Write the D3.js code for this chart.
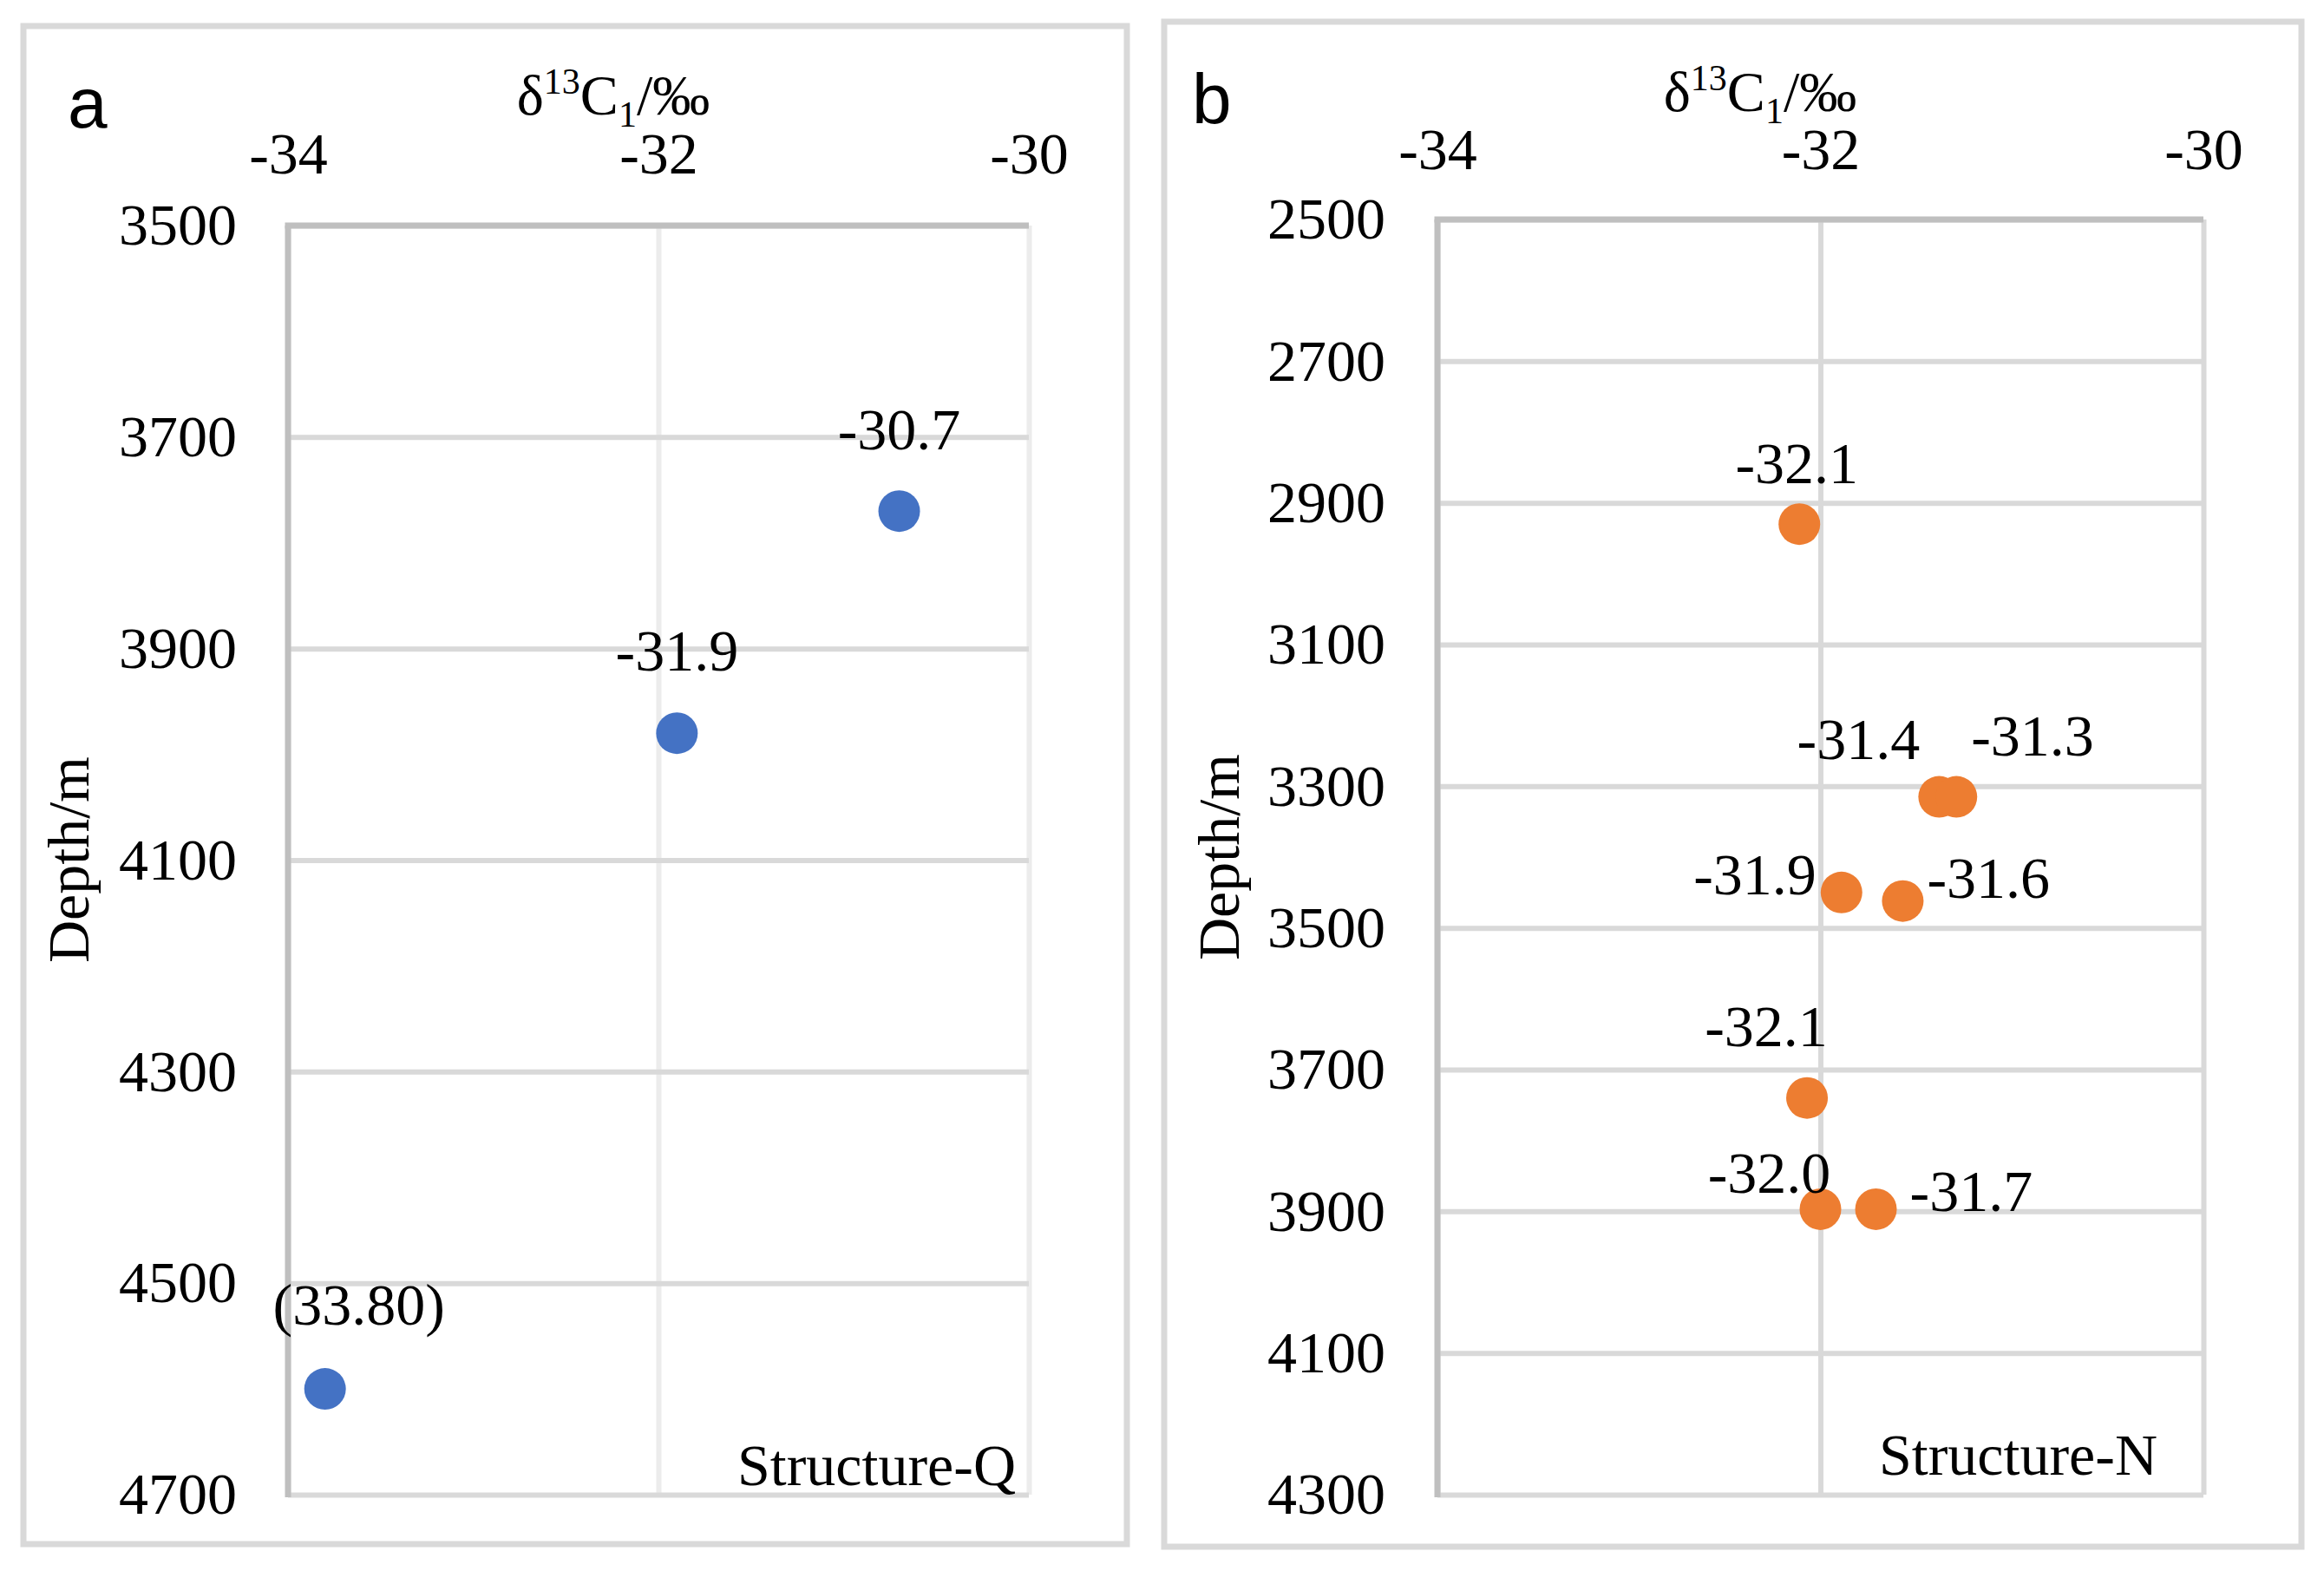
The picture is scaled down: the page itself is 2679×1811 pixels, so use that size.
<!DOCTYPE html>
<html>
<head>
<meta charset="utf-8">
<script src="https://cdn.jsdelivr.net/npm/d3@7"></script>
<style>
  html, body { margin: 0; padding: 0; background: #ffffff; }
  svg { display: block; }
</style>
</head>
<body>
<svg id="chart" width="2679" height="1811"></svg>
<script>
// ---------------- DATA ----------------
const xTicks = [-34, -32, -30];
const xDomain = [-34, -30];

// Panel a : Structure-Q
const depthTicksA = [3500, 3700, 3900, 4100, 4300, 4500, 4700];
const deltaA = [-30.7, -31.9, -33.8];
const depthA = [3770, 3980, 4600];
const labelsA = ["-30.7", "-31.9", "(33.80)"];

// Panel b : Structure-N
const depthTicksB = [2500, 2700, 2900, 3100, 3300, 3500, 3700, 3900, 4100, 4300];
const deltaB = [-32.11, -31.38, -31.29, -31.89, -31.57, -32.07, -32.0, -31.71];
const depthB = [2930, 3315, 3315, 3450, 3462, 3740, 3897, 3897];

const panelLetters = ["a", "b"];
const structureNames = ["Structure-Q", "Structure-N"];

// ---------------- LAYOUT (positions / styles) ----------------
const serif = "'Liberation Serif', 'Times New Roman', serif";
const sans = "'Liberation Sans', Arial, sans-serif";
const FS = 68;

const panels = [
  {
    frame: {x0: 27, y0: 30, x1: 1299, y1: 1780},
    plot: {x0: 332, y0: 260, x1: 1186, y1: 1723},
    yTicks: depthTicksA, yDomain: [3500, 4700],
    xs: deltaA, ys: depthA, labels: labelsA,
    color: "#4472c4", vGrid: "#ececec",
    labelPos: [ {a: "middle", dx: 0, dy: -71}, {a: "middle", dx: 0, dy: -72}, {a: "middle", dx: 39, dy: -74} ],
    letter: {x: 78, y: 147}, title: {x: 707, y: 132},
    xPad: 60, yPad: 59, depthLabel: {x: 102, y: 991},
    structure: {x: 1171, y: 1712}
  },
  {
    frame: {x0: 1342, y0: 25, x1: 2653, y1: 1783},
    plot: {x0: 1657, y0: 253, x1: 2540, y1: 1723},
    yTicks: depthTicksB, yDomain: [2500, 4300],
    xs: deltaB, ys: depthB, labels: deltaB.map(v => v.toFixed(1)),
    color: "#ed7d31", vGrid: "#d9d9d9",
    labelPos: [
      {a: "middle", dx: -3, dy: -47},
      {a: "middle", dx: -93, dy: -44},
      {a: "start", dx: 17, dy: -48},
      {a: "end", dx: -29, dy: 2},
      {a: "start", dx: 28, dy: -4},
      {a: "middle", dx: -47, dy: -60},
      {a: "middle", dx: -59, dy: -19},
      {a: "start", dx: 39, dy: 2}
    ],
    letter: {x: 1374, y: 142}, title: {x: 2029, y: 128},
    xPad: 58, yPad: 60, depthLabel: {x: 1428, y: 988},
    structure: {x: 2487, y: 1700}
  }
];

const svg = d3.select("#chart");

panels.forEach((p, pi) => {
  const g = svg.append("g");
  const W = p.plot.x1 - p.plot.x0, H = p.plot.y1 - p.plot.y0;

  // outer frame
  g.append("rect")
    .attr("x", p.frame.x0).attr("y", p.frame.y0)
    .attr("width", p.frame.x1 - p.frame.x0).attr("height", p.frame.y1 - p.frame.y0)
    .attr("fill", "#ffffff").attr("stroke", "#d9d9d9").attr("stroke-width", 7);

  const x = d3.scaleLinear().domain(xDomain).range([p.plot.x0, p.plot.x1]);
  const y = d3.scaleLinear().domain(p.yDomain).range([p.plot.y0, p.plot.y1]);

  // vertical gridlines
  const vg = g.append("g").attr("transform", `translate(0,${p.plot.y0})`)
    .call(d3.axisTop(x).tickValues(xTicks).tickSize(-H).tickFormat(""));
  vg.select(".domain").remove();
  vg.selectAll("line").attr("stroke", p.vGrid).attr("stroke-width", 6);

  // horizontal gridlines
  const hg = g.append("g").attr("transform", `translate(${p.plot.x0},0)`)
    .call(d3.axisLeft(y).tickValues(p.yTicks).tickSize(-W).tickFormat(""));
  hg.select(".domain").remove();
  hg.selectAll("line").attr("stroke", "#d9d9d9").attr("stroke-width", 6);

  // top axis (labels) + axis line
  const xa = g.append("g").attr("transform", `translate(0,${p.plot.y0})`)
    .call(d3.axisTop(x).tickValues(xTicks).tickSize(0).tickPadding(p.xPad).tickFormat(d3.format("d")));
  xa.select(".domain").remove();
  xa.selectAll("text").attr("font-family", serif).attr("font-size", FS).attr("fill", "#000")
    .text(d => (d < 0 ? "-" : "") + Math.abs(d));

  const ya = g.append("g").attr("transform", `translate(${p.plot.x0},0)`)
    .call(d3.axisLeft(y).tickValues(p.yTicks).tickSize(0).tickPadding(p.yPad).tickFormat(d3.format("d")));
  ya.select(".domain").remove();
  ya.selectAll("text").attr("font-family", serif).attr("font-size", FS).attr("fill", "#000");

  g.append("line").attr("x1", p.plot.x0 - 3.5).attr("x2", p.plot.x1).attr("y1", p.plot.y0).attr("y2", p.plot.y0)
    .attr("stroke", "#bfbfbf").attr("stroke-width", 7);
  g.append("line").attr("x1", p.plot.x0).attr("x2", p.plot.x0).attr("y1", p.plot.y0).attr("y2", p.plot.y1 + 3)
    .attr("stroke", "#bfbfbf").attr("stroke-width", 7);

  // points
  const pts = p.xs.map((v, i) => ({v, d: p.ys[i], label: p.labels[i], pos: p.labelPos[i]}));
  g.append("g").selectAll("circle").data(pts).join("circle")
    .attr("cx", d => x(d.v)).attr("cy", d => y(d.d)).attr("r", 24)
    .attr("fill", p.color);

  g.append("g").selectAll("text").data(pts).join("text")
    .attr("x", d => x(d.v) + d.pos.dx).attr("y", d => y(d.d) + d.pos.dy)
    .attr("text-anchor", d => d.pos.a)
    .attr("font-family", serif).attr("font-size", FS).attr("fill", "#000")
    .text(d => d.label);

  // panel letter
  g.append("text").attr("x", p.letter.x).attr("y", p.letter.y)
    .attr("font-family", sans).attr("font-size", 82).attr("fill", "#000")
    .text(panelLetters[pi]);

  // axis title δ13C1/‰
  const t = g.append("text").attr("x", p.title.x).attr("y", p.title.y)
    .attr("text-anchor", "middle").attr("font-family", serif).attr("font-size", 66).attr("fill", "#000");
  t.append("tspan").text("δ");
  t.append("tspan").attr("font-size", 42).attr("dy", -24).text("13");
  t.append("tspan").attr("dy", 24).text("C");
  t.append("tspan").attr("font-size", 42).attr("dy", 14).text("1");
  t.append("tspan").attr("dy", -14).text("/‰");

  // depth label
  g.append("text")
    .attr("transform", `translate(${p.depthLabel.x},${p.depthLabel.y}) rotate(-90)`)
    .attr("text-anchor", "middle").attr("font-family", serif).attr("font-size", FS).attr("fill", "#000")
    .text("Depth/m");

  // structure name
  g.append("text").attr("x", p.structure.x).attr("y", p.structure.y)
    .attr("text-anchor", "end").attr("font-family", serif).attr("font-size", FS).attr("fill", "#000")
    .text(structureNames[pi]);
});
</script>
</body>
</html>
